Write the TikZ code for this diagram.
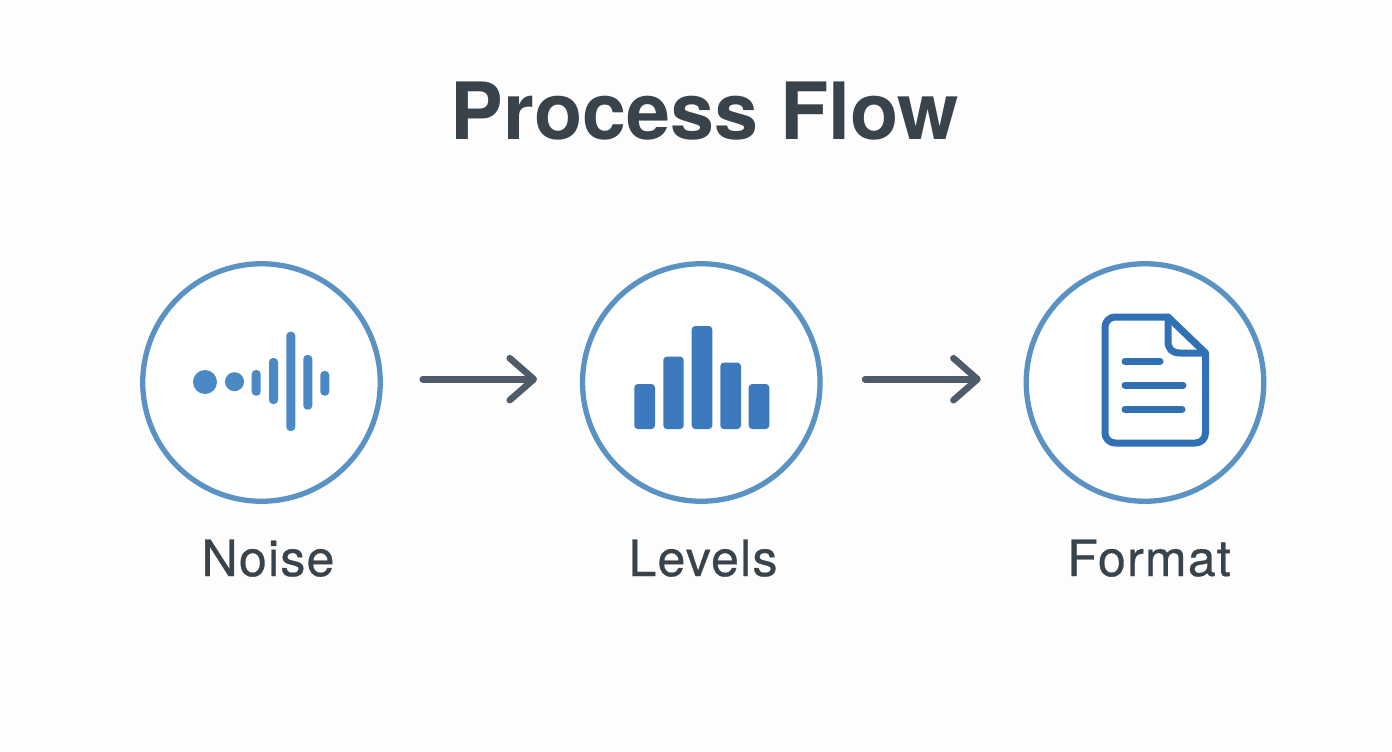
\documentclass[tikz,border=0pt]{standalone}
\usepackage{fontspec}
\setmainfont{TeX Gyre Heros}
\newfontfamily\capfont[FakeBold=0.6,LetterSpace=2.5]{TeX Gyre Heros}
\usetikzlibrary{arrows.meta,calc}
\definecolor{ringc}{HTML}{5A93C3}
\definecolor{waveC}{HTML}{4A88C6}
\definecolor{barC}{HTML}{3C7ABD}
\definecolor{docC}{HTML}{3070B4}
\definecolor{arrowC}{HTML}{4D5C68}
\definecolor{textC}{HTML}{39434C}
\definecolor{bgC}{HTML}{FDFDFD}
\tikzset{
  ring/.style={circle,draw=ringc,fill=white,line width=5.3pt,minimum size=237.5pt,inner sep=0pt,outer sep=0pt},
  flow/.style={draw=arrowC,line width=6.6pt,line cap=round,shorten <=42.5pt,shorten >=45.5pt,
    -{Straight Barb[length=24pt,width=42pt,line width=6.6pt,round]}},
  caption/.style={text=textC,font=\capfont\fontsize{50}{50}\selectfont,inner sep=0pt,anchor=base},
  heading/.style={text=textC,font=\fontsize{79}{79}\selectfont\bfseries,inner sep=0pt,anchor=base},
  wavebar/.style={fill=waveC,rounded corners=4pt},
  levelbar/.style={fill=barC,rounded corners=3.5pt},
  docline/.style={draw=docC,line width=7pt,line cap=round,line join=round}
}
\begin{document}
\begin{tikzpicture}[x=1pt,y=-1pt]
\useasboundingbox (0,0) rectangle (1392,752);
\fill[bgC] (0,0) rectangle (1392,752);
\node[heading] (title) at (705,139) {Process Flow};
\node[ring] (a) at (261.5,382.5) {};
\node[ring] (b) at (701.3,382.5) {};
\node[ring] (c) at (1145,382.5) {};
\draw[flow] ([yshift=3.3pt]a.east) -- ([yshift=3.3pt]b.west);
\draw[flow,shorten <=45pt] ([yshift=3.3pt]b.east) -- ([yshift=3.3pt]c.west);
% noise icon
\fill[waveC] (205,382) circle (12);
\fill[waveC] (234.5,381.7) circle (9.5);
\fill[wavebar] (251.7,370) rectangle (260.7,395.7);
\fill[wavebar] (269,358) rectangle (278,404);
\fill[wavebar] (286.3,331.7) rectangle (295.3,431);
\fill[wavebar] (303.3,355) rectangle (312.3,409.7);
\fill[wavebar] (320.3,371) rectangle (329.3,395.7);
% levels icon
\fill[levelbar] (634.3,384) rectangle (655,429);
\fill[levelbar] (663.3,356.7) rectangle (683.7,429);
\fill[levelbar] (691.7,326) rectangle (712.3,429);
\fill[levelbar] (720.3,362.7) rectangle (741,429);
\fill[levelbar] (748.7,384) rectangle (769.3,429);
% document icon
\draw[docline] (1115,317) -- (1168,317) -- (1205.5,353) -- (1205.5,433)
  arc[start angle=0,end angle=90,radius=10] -- (1115,443)
  arc[start angle=90,end angle=180,radius=10] -- (1105,327)
  arc[start angle=180,end angle=270,radius=10] -- cycle;
\draw[docline] (1168,317) -- (1168,341) .. controls (1168,349) and (1172,353) .. (1180,353) -- (1205.5,353);
\draw[docline] (1125,361.3) -- (1160,361.3);
\draw[docline] (1125,385) -- (1183,385);
\draw[docline] (1125,409.3) -- (1182,409.3);
% labels
\node[caption] (na) at (268,576) {Noise};
\node[caption] (nb) at (703,576) {Levels};
\node[caption] (nc) at (1149,576) {Format};
\end{tikzpicture}
\end{document}
